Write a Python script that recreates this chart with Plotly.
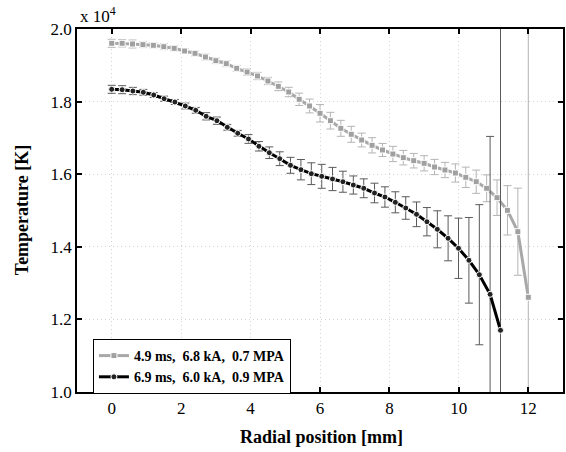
import plotly.graph_objects as go

# Radial positions [mm]
x_a = [0.0, 0.3, 0.6, 0.9, 1.2, 1.5, 1.8, 2.1, 2.4, 2.7, 3.0, 3.3, 3.6, 3.9,
       4.2, 4.5, 4.8, 5.1, 5.4, 5.7, 6.0, 6.3, 6.6, 6.9, 7.2, 7.5, 7.8, 8.1,
       8.4, 8.7, 9.0, 9.3, 9.6, 9.9, 10.2, 10.5, 10.8, 11.1, 11.4, 11.7, 12.0]
x_b = [0.00, 0.30, 0.61, 0.91, 1.21, 1.51, 1.82, 2.12, 2.42, 2.72, 3.03, 3.33,
       3.63, 3.94, 4.24, 4.54, 4.84, 5.15, 5.45, 5.75, 6.05, 6.36, 6.66, 6.96,
       7.26, 7.57, 7.87, 8.17, 8.47, 8.78, 9.08, 9.38, 9.69, 9.99, 10.29,
       10.59, 10.90, 11.20]

# Temperatures [x 10^4 K]
temp_a = [1.9606, 1.9606, 1.9587, 1.9568, 1.9551, 1.9512, 1.9468, 1.9394,
          1.9330, 1.9229, 1.9127, 1.9044, 1.8917, 1.8815, 1.8705, 1.8567,
          1.8421, 1.8264, 1.8063, 1.7879, 1.7678, 1.7474, 1.7264, 1.7099,
          1.6942, 1.6796, 1.6667, 1.6556, 1.6455, 1.6372, 1.6300, 1.6198,
          1.6116, 1.6033, 1.5915, 1.5793, 1.5612, 1.5353, 1.5005, 1.4416,
          1.2609]
err_a = [0.011, 0.010, 0.011, 0.008, 0.007, 0.008, 0.007, 0.007, 0.007,
         0.008, 0.008, 0.008, 0.008, 0.009, 0.010, 0.010, 0.012, 0.013,
         0.017, 0.019, 0.024, 0.023, 0.022, 0.022, 0.019, 0.021, 0.018,
         0.021, 0.020, 0.020, 0.021, 0.021, 0.021, 0.025, 0.028, 0.032,
         0.037, 0.049, 0.068, 0.120, 1.000]

temp_b = [1.8339, 1.8328, 1.8292, 1.8256, 1.8182, 1.8080, 1.7989, 1.7879,
          1.7760, 1.7595, 1.7474, 1.7292, 1.7127, 1.6970, 1.6769, 1.6592,
          1.6427, 1.6245, 1.6124, 1.6014, 1.5942, 1.5868, 1.5793, 1.5702,
          1.5612, 1.5482, 1.5372, 1.5226, 1.5069, 1.4895, 1.4691, 1.4482,
          1.4234, 1.3959, 1.3628, 1.3231, 1.2691, 1.1700]
err_b = [0.011, 0.011, 0.010, 0.008, 0.007, 0.007, 0.007, 0.008, 0.008,
         0.010, 0.010, 0.008, 0.008, 0.012, 0.013, 0.016, 0.019, 0.022,
         0.028, 0.030, 0.033, 0.032, 0.029, 0.025, 0.026, 0.027, 0.028,
         0.029, 0.031, 0.034, 0.039, 0.051, 0.062, 0.083, 0.118, 0.193,
         0.435, 1.000]

label_a = "4.9\u00a0ms,\u00a0\u00a06.8\u00a0kA,\u00a0\u00a00.7\u00a0MPA"
label_b = "6.9\u00a0ms,\u00a0\u00a06.0\u00a0kA,\u00a0\u00a00.9\u00a0MPA"

x_ticks = [0, 2, 4, 6, 8, 10, 12]
y_ticks = [1.0, 1.2, 1.4, 1.6, 1.8, 2.0]
y_ticktext = ["1.0", "1.2", "1.4", "1.6", "1.8", "2.0"]

FONT = "Liberation Serif, Times New Roman, serif"

fig = go.Figure()
fig.add_trace(go.Scatter(
    x=x_a, y=temp_a, name=label_a, mode="lines+markers",
    line=dict(color="#a8a8a8", width=3),
    marker=dict(symbol="square", size=6, color="#a0a0a0",
                line=dict(color="white", width=1)),
    error_y=dict(type="data", array=err_a, visible=True,
                 color="#b4b4b4", thickness=1, width=4),
))
fig.add_trace(go.Scatter(
    x=x_b, y=temp_b, name=label_b, mode="lines+markers",
    line=dict(color="#000000", width=3),
    marker=dict(symbol="circle", size=6, color="#222222",
                line=dict(color="white", width=1)),
    error_y=dict(type="data", array=err_b, visible=True,
                 color="#5a5a5a", thickness=1, width=4),
))

L, R, T, B = 77, 1, 29, 60
W, H = 566, 452
pw, ph = W - L - R, H - T - B

def px(xp, yp):
    return (xp - L) / pw, (H - B - yp) / ph

axis_common = dict(
    showline=True, linecolor="black", linewidth=1.5, mirror="allticks",
    ticks="inside", ticklen=5, tickwidth=1.5, tickcolor="black",
    showgrid=True, gridcolor="#d4d4d4", gridwidth=1, griddash="1px,3px",
    zeroline=False,
    tickfont=dict(family=FONT, size=17, color="black"),
)

fig.update_xaxes(range=[-1, 13], tickvals=x_ticks, **axis_common)
fig.update_yaxes(range=[1.0, 2.0], tickvals=y_ticks, ticktext=y_ticktext,
                 **axis_common)

ax, ay = px(323, 437)
bx, by = px(22, 210)
cx, cy = px(78, 15)
lx, ly = px(93, 339)

fig.update_layout(
    width=W, height=H,
    margin=dict(l=L, r=R, t=T, b=B),
    paper_bgcolor="white", plot_bgcolor="white",
    showlegend=True,
    legend=dict(x=lx, y=ly, xanchor="left", yanchor="top",
                bgcolor="white", bordercolor="black", borderwidth=1,
                font=dict(family=FONT, size=14, color="black",
                          weight="bold"),
                itemwidth=30, tracegroupgap=0),
    annotations=[
        dict(text="<b>Radial position [mm]</b>", x=ax, y=ay,
             xref="paper", yref="paper", showarrow=False,
             xanchor="center", yanchor="middle",
             font=dict(family=FONT, size=18, color="black")),
        dict(text="<b>Temperature [K]</b>", x=bx, y=by,
             xref="paper", yref="paper", showarrow=False, textangle=-90,
             xanchor="center", yanchor="middle",
             font=dict(family=FONT, size=18, color="black")),
        dict(text="x 10<sup>4</sup>", x=cx, y=cy,
             xref="paper", yref="paper", showarrow=False,
             xanchor="left", yanchor="middle",
             font=dict(family=FONT, size=17, color="black")),
    ],
)

fig.write_html("out.html",
               config={"displayModeBar": False},
               post_script="document.body.style.margin='0';"
                           "document.body.style.overflow='hidden';")
